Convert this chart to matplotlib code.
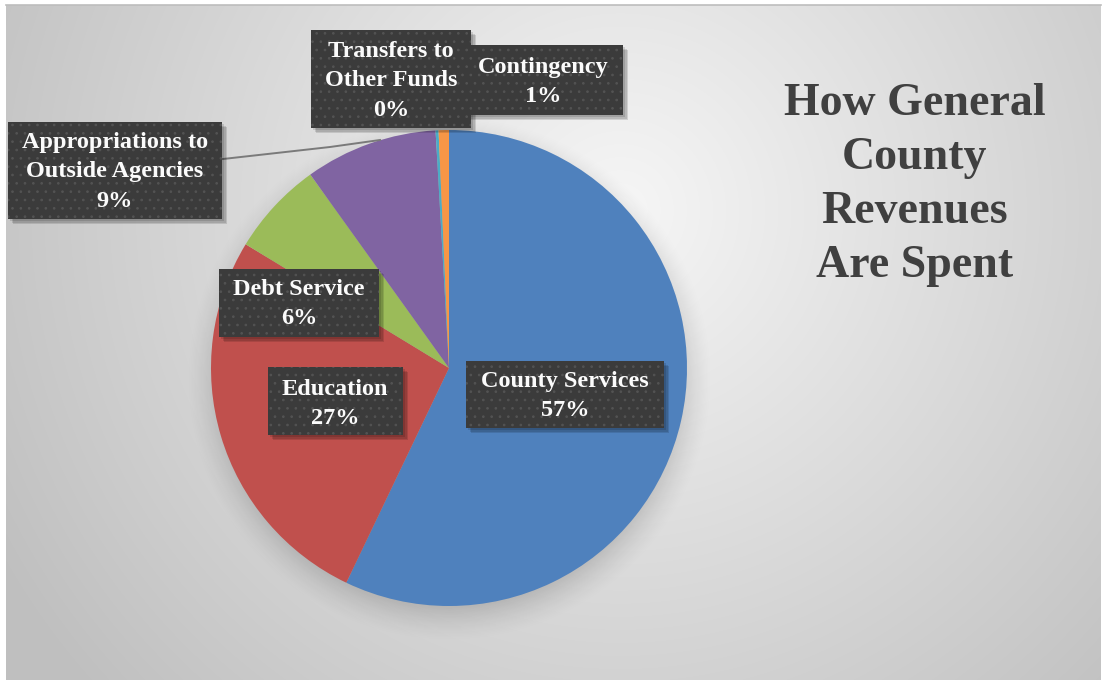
import numpy as np
import matplotlib
matplotlib.use("Agg")
import matplotlib.pyplot as plt
from matplotlib.patches import Rectangle

# ---- data ----
categories = ["County Services", "Education", "Debt Service",
              "Appropriations to\nOutside Agencies",
              "Transfers to\nOther Funds", "Contingency"]
shares = [57.1, 26.6, 6.4, 9.0, 0.2, 0.7]
colors = ["#4F81BD", "#C0504D", "#9BBB59", "#8064A2", "#4BACC6", "#F79646"]
title_lines = ["How General", "County", "Revenues", "Are Spent"]

# ---- layout (pixel coordinates, y measured from the top) ----
W, H = 1105, 680
PIE_CX, PIE_CY, PIE_R = 449, 368, 238
# label box: (left, top, right, bottom), first baseline, text centre x
label_boxes = {
    "County Services": ((466, 361, 664, 428), 387, 565),
    "Education": ((268, 367, 403, 435), 395, 335),
    "Debt Service": ((219, 269, 379, 337), 295, 299),
    "Appropriations to\nOutside Agencies": ((8, 122, 222, 219), 148, 115),
    "Contingency": ((462, 45, 623, 115), 73, 543),
    "Transfers to\nOther Funds": ((311, 30, 471, 128), 57, 391),
}
draw_order = ["County Services", "Education", "Debt Service",
              "Appropriations to\nOutside Agencies", "Contingency",
              "Transfers to\nOther Funds"]
LINE_STEP = 29.5
SERIF = ["Liberation Serif", "DejaVu Serif"]

plt.rcParams["hatch.linewidth"] = 0.7

fig = plt.figure(figsize=(W / 100, H / 100), dpi=100)
fig.patch.set_facecolor("white")
ax = fig.add_axes([0, 0, 1, 1])


def Y(py):
    return H - py


# radial grey background
left, right, top = 6, 1101, 5
xs = np.arange(left, right)
ys = np.arange(top, H)
gx, gy = np.meshgrid(xs, ys)
d = np.hypot(gx - 620, gy - 210)
v = np.clip(0.965 - 0.0003 * d, 0.75, 1.0)
bg = np.dstack([v, v, v])
ax.imshow(bg, extent=(left, right, 0, H - top), origin="upper",
          zorder=0, interpolation="bilinear", aspect="auto")
ax.plot([left, right], [H - top, H - top], color="#bdbdbd", lw=1.2, zorder=0.2)

# soft shadow under the pie
sx = np.arange(0, W)
sy = np.arange(0, H)
hx, hy = np.meshgrid(sx, sy)
dist = np.hypot(hx - PIE_CX, hy - (PIE_CY + 10))
blur = 26.0
a = np.clip((PIE_R + blur - dist) / (2 * blur), 0, 1) ** 1.5 * 0.26
shadow = np.zeros((H, W, 4))
shadow[..., 3] = a
ax.imshow(shadow, extent=(0, W, 0, H), origin="upper", zorder=0.5,
          interpolation="bilinear", aspect="auto")

# the pie itself
ax.pie(shares, colors=colors, startangle=90, counterclock=False,
       center=(PIE_CX, Y(PIE_CY)), radius=PIE_R,
       wedgeprops=dict(linewidth=0), frame=True)

# leader line for the appropriations label
ax.plot([223, 330, 380], [Y(159), Y(147), Y(140)], color="#7a7a7a",
        lw=1.4, zorder=2)

# data labels in dark dotted boxes
for name in draw_order:
    (l, t, r, b), base, cx = label_boxes[name]
    share = shares[categories.index(name)]
    for k in range(3):
        off = 2 + k * 1.5
        ax.add_patch(Rectangle((l + off, Y(b) - off), r - l, b - t,
                               facecolor="black", edgecolor="none",
                               alpha=0.12, zorder=3))
    ax.add_patch(Rectangle((l, Y(b)), r - l, b - t, facecolor="#3b3b3b",
                           edgecolor="#535353", linewidth=0, hatch="..",
                           zorder=4))
    lines = name.split("\n") + [f"{share:.0f}%"]
    for i, ln in enumerate(lines):
        ax.text(cx, Y(base + i * LINE_STEP), ln, ha="center", va="baseline",
                color="#fbfbfb", fontsize=17.5, fontweight="bold",
                family=SERIF, zorder=5)

# chart title
for i, ln in enumerate(title_lines):
    ax.text(915, Y(115 + i * 54), ln, ha="center", va="baseline",
            color="#404040", fontsize=33, fontweight="bold",
            family=SERIF, zorder=5)

ax.set_xlim(0, W)
ax.set_ylim(0, H)
ax.set_aspect("auto")
ax.axis("off")

fig.savefig("out.png", dpi=100)
